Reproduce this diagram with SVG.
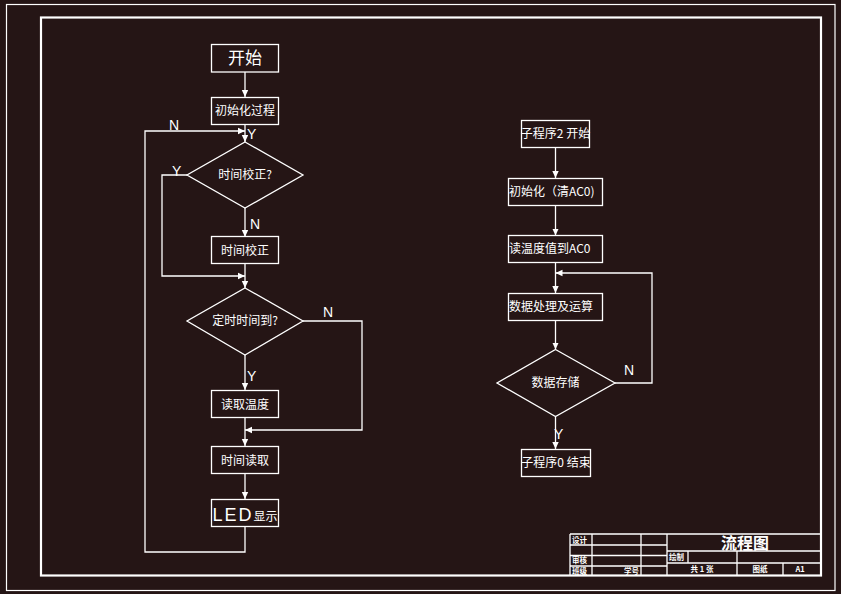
<svg xmlns="http://www.w3.org/2000/svg" width="841" height="594" viewBox="0 0 841 594">
<style>
.bg{fill:#251515}
.ln{fill:none;stroke:#fff;stroke-width:1.3}
.box{fill:none;stroke:#fff;stroke-width:1.3}
.t{fill:#fff;font-family:"Noto Sans CJK SC","Noto Sans",sans-serif;font-size:12px;text-anchor:middle}
.ts{fill:#fff;font-family:"Noto Sans CJK SC","Noto Sans",sans-serif;font-size:12px}
.yn{fill:#fff;font-family:"Liberation Sans",sans-serif;font-size:14px}
.tb{fill:#fff;font-family:"Noto Sans CJK SC",sans-serif;font-size:7.5px;font-weight:bold}
</style>
<defs>
<marker id="ar" markerUnits="userSpaceOnUse" markerWidth="8" markerHeight="8" refX="7" refY="4" orient="auto">
<path d="M0,0.8 L7,4 L0,7.2 Z" fill="#fff"/>
</marker>
</defs>
<rect class="bg" x="0" y="0" width="841" height="594"/>
<rect x="6.5" y="4.5" width="828.5" height="586" fill="none" stroke="#fff" stroke-width="1.2"/>
<rect x="41" y="17.5" width="780" height="558" fill="none" stroke="#fff" stroke-width="2.2"/>

<g id="connectors">
<path class="ln" d="M245,72 V97" marker-end="url(#ar)"/>
<path class="ln" d="M245,124 V142" marker-end="url(#ar)"/>
<path class="ln" d="M245,526 V552 H145 V131 H245" marker-end="url(#ar)"/>
<path class="ln" d="M187,175 H162 V276 H245" marker-end="url(#ar)"/>
<path class="ln" d="M245,208 V237" marker-end="url(#ar)"/>
<path class="ln" d="M245,263 V288" marker-end="url(#ar)"/>
<path class="ln" d="M303,321 H362 V430 H245" marker-end="url(#ar)"/>
<path class="ln" d="M245,355 V390" marker-end="url(#ar)"/>
<path class="ln" d="M245,417 V446" marker-end="url(#ar)"/>
<path class="ln" d="M245,473 V499" marker-end="url(#ar)"/>
<path class="ln" d="M555.5,147 V178" marker-end="url(#ar)"/>
<path class="ln" d="M555.5,205.5 V235.5" marker-end="url(#ar)"/>
<path class="ln" d="M555.5,262.5 V293" marker-end="url(#ar)"/>
<path class="ln" d="M555.5,320.5 V349.5" marker-end="url(#ar)"/>
<path class="ln" d="M615,383 H652 V273 H555.5" marker-end="url(#ar)"/>
<path class="ln" d="M555.5,416.5 V449" marker-end="url(#ar)"/>
<text class="yn" x="169" y="130">N</text>
<text class="yn" x="247" y="139">Y</text>
<text class="yn" x="172" y="176">Y</text>
<text class="yn" x="250" y="229">N</text>
<text class="yn" x="323" y="317">N</text>
<text class="yn" x="247" y="381">Y</text>
<text class="yn" x="624" y="375">N</text>
<text class="yn" x="554" y="439">Y</text>
</g>

<g id="start"><rect class="box" x="211.5" y="44.5" width="67" height="27.5"/><text class="t" x="245" y="64" style="font-size:17px">开始</text></g>
<g id="init"><rect class="box" x="211.5" y="97.5" width="67" height="27"/><text class="t" x="245" y="115">初始化过程</text></g>
<g id="dec1"><polygon class="box" points="245,142 303,175 245,208 187,175"/><text class="t" x="245" y="179">时间校正?</text></g>
<g id="adjust"><rect class="box" x="211.5" y="236.5" width="67" height="27"/><text class="t" x="245" y="255">时间校正</text></g>
<g id="dec2"><polygon class="box" points="245,288 303,321 245,355 187,321"/><text class="t" x="245" y="325">定时时间到?</text></g>
<g id="readtemp"><rect class="box" x="211.5" y="390.5" width="67" height="27"/><text class="t" x="245" y="409">读取温度</text></g>
<g id="readtime"><rect class="box" x="211.5" y="446.5" width="67" height="27"/><text class="t" x="245" y="465">时间读取</text></g>
<g id="led"><rect class="box" x="211.5" y="499.5" width="67" height="27"/><text class="t" x="245" y="521"><tspan style="font-family:'Liberation Sans',sans-serif;font-size:18px" letter-spacing="2">LED</tspan>显示</text></g>

<g id="sub-start"><rect class="box" x="521.5" y="120.5" width="68" height="27"/><text class="t" x="555.5" y="138">子程序2 开始</text></g>
<g id="sub-init"><rect class="box" x="508.5" y="178.5" width="94" height="27"/><text class="ts" x="509" y="196">初始化（清AC0)</text></g>
<g id="sub-read"><rect class="box" x="508.5" y="235.5" width="94" height="27"/><text class="ts" x="509" y="253">读温度值到AC0</text></g>
<g id="sub-proc"><rect class="box" x="508.5" y="293.5" width="94" height="27"/><text class="ts" x="509" y="311">数据处理及运算</text></g>
<g id="sub-dec"><polygon class="box" points="555.5,349.5 615,383 555.5,416.5 497,383"/><text class="t" x="555.5" y="387">数据存储</text></g>
<g id="sub-end"><rect class="box" x="521.5" y="449.5" width="69" height="27"/><text class="t" x="556" y="467">子程序0 结束</text></g>

<g id="titleblock">
<path class="ln" d="M570,534 H821 M570,534 V575 M570,545 H667 M570,555.5 H667 M570,566 H667 M592,534 V575 M641,534 V575 M667,534 V575 M667,551 H821 M667,563 H821 M688,551 V563 M737,551 V575 M783,563 V575" stroke-width="1.5"/>
<text class="tb" x="572" y="542.5">设计</text>
<text class="tb" x="572" y="563">审核</text>
<text class="tb" x="572" y="573.5">班级</text>
<text class="tb" x="624" y="573.5">学号</text>
<text class="tb" x="669" y="560">绘制</text>
<text class="tb" x="702" y="572" style="text-anchor:middle">共 1 张</text>
<text class="tb" x="760" y="572" style="text-anchor:middle">图纸</text>
<text class="tb" x="800" y="572" style="text-anchor:middle">A1</text>
<text x="745" y="549" style="fill:#fff;font-family:'Noto Sans CJK SC',sans-serif;font-size:16px;font-weight:bold;text-anchor:middle">流程图</text>
</g>
</svg>
